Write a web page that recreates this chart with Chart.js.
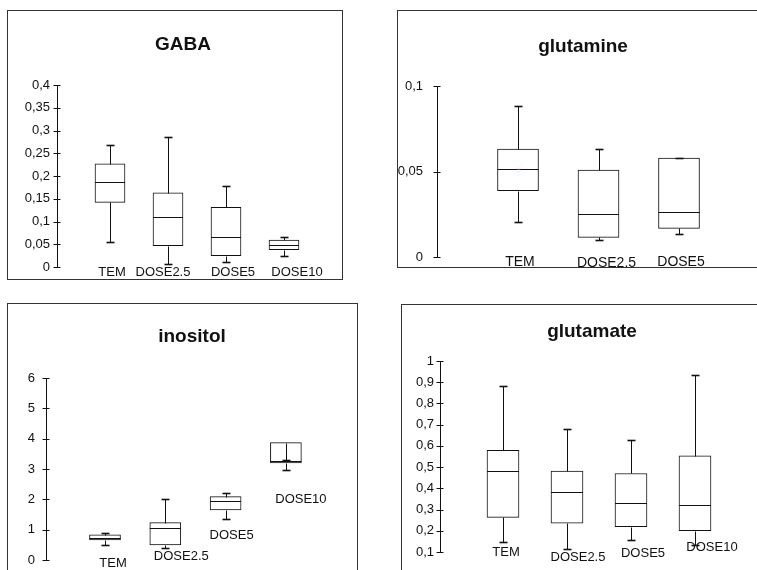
<!DOCTYPE html>
<html><head><meta charset="utf-8">
<script src="https://cdn.jsdelivr.net/npm/chart.js@4.4.1/dist/chart.umd.min.js"></script>
<style>
html,body{margin:0;padding:0;background:#fff;}
body{width:757px;height:570px;position:relative;overflow:hidden;}
.frame{position:absolute;border:1px solid #333;box-sizing:border-box;}
canvas{position:absolute;left:0;top:0;}
</style></head><body>
<div class="frame" style="left:7px;top:10px;width:336px;height:270px"></div>
<div class="frame" style="left:397px;top:10px;width:400px;height:258px"></div>
<div class="frame" style="left:7px;top:303px;width:351px;height:300px"></div>
<div class="frame" style="left:401px;top:304px;width:400px;height:300px"></div>
<canvas id="c1" width="757" height="620"></canvas>
<canvas id="c2" width="757" height="620"></canvas>
<canvas id="c3" width="757" height="620"></canvas>
<canvas id="c4" width="757" height="620"></canvas>
<script>
// ---------- data ----------
const gabaCategories = ['TEM', 'DOSE2.5', 'DOSE5', 'DOSE10'];
const gabaMin    = [0.055, 0.007, 0.012, 0.025];
const gabaQ1     = [0.142, 0.047, 0.025, 0.038];
const gabaMedian = [0.187, 0.109, 0.065, 0.048];
const gabaQ3     = [0.227, 0.163, 0.131, 0.059];
const gabaMax    = [0.268, 0.286, 0.179, 0.067];

const glutamineCategories = ['TEM', 'DOSE2.5', 'DOSE5'];
const glutamineMin    = [0.0202, 0.0097, 0.0134];
const glutamineQ1     = [0.0388, 0.0115, 0.0167];
const glutamineMedian = [0.0517, 0.0250, 0.0264];
const glutamineQ3     = [0.0631, 0.0509, 0.0579];
const glutamineMax    = [0.0883, 0.0633, 0.0579];

const inositolCategories = ['TEM', 'DOSE2.5', 'DOSE5', 'DOSE10'];
const inositolMin    = [0.50, 0.39, 1.34, 2.97];
const inositolQ1     = [0.66, 0.50, 1.65, 3.20];
const inositolMedian = [0.74, 1.05, 1.95, 3.26];
const inositolQ3     = [0.83, 1.23, 2.09, 3.87];
const inositolMax    = [0.90, 2.02, 2.22, 3.31];

const glutamateCategories = ['TEM', 'DOSE2.5', 'DOSE5', 'DOSE10'];
const glutamateMin    = [0.148, 0.116, 0.156, 0.132];
const glutamateQ1     = [0.263, 0.236, 0.219, 0.200];
const glutamateMedian = [0.481, 0.384, 0.329, 0.321];
const glutamateQ3     = [0.579, 0.481, 0.470, 0.553];
const glutamateMax    = [0.884, 0.678, 0.629, 0.934];

// y-axis tick settings (min, max, step)
const gabaTicks      = [0, 0.4, 0.05];
const glutamineTicks = [0, 0.1, 0.05];
const inositolTicks  = [0, 6, 1];
const glutamateTicks = [0.1, 1, 0.1];

// ---------- drawing ----------
const FONT = "'Liberation Sans', Arial, Helvetica, sans-serif";
Chart.defaults.font.family = FONT;
Chart.defaults.color = '#111';
const INK = '#111';
const AXIS_W = 40;
const CW = 757, CH = 620;

const boxDecor = {
  id: 'boxDecor',
  afterDatasetsDraw(chart, args, o) {
    const ctx = chart.ctx, xs = chart.scales.x, ys = chart.scales.y;
    const py = v => Math.round(ys.getPixelForValue(v)) + 0.5;
    const line = (x1, y1, x2, y2, w) => {
      ctx.lineWidth = w || 1;
      ctx.beginPath(); ctx.moveTo(x1, y1); ctx.lineTo(x2, y2); ctx.stroke();
    };
    ctx.save();
    ctx.strokeStyle = INK;
    // tick marks crossing the axis
    const ax = Math.round(ys.right) + 0.5;
    ys.ticks.forEach(t => { const y = py(t.value); line(ax - 4, y, ax + 3, y); });
    const meta = chart.getDatasetMeta(0);
    o.cats.forEach((c, i) => {
      const el = meta.data[i];
      const cx = Math.round(el.x) + 0.5, half = el.width / 2;
      const left = el.x - half, right = el.x + half;
      const m = py(o.med[i]);
      line(left, m, right, m);
      if (o.redMedian && i === 0) {
        ctx.strokeStyle = '#e00'; line(cx - 1.5, m, cx + 1.5, m); ctx.strokeStyle = INK;
      }
      // whiskers
      line(cx, py(o.q3[i]), cx, py(o.max[i]));
      line(cx - 4, py(o.max[i]), cx + 4, py(o.max[i]), 1.6);
      line(cx, py(o.q1[i]), cx, py(o.min[i]));
      line(cx - 4, py(o.min[i]), cx + 4, py(o.min[i]), 1.6);
    });
    // category labels
    ctx.fillStyle = INK;
    ctx.textAlign = 'center'; ctx.textBaseline = 'middle';
    ctx.font = o.labelSize + 'px ' + FONT;
    o.cats.forEach((c, i) => ctx.fillText(c, xs.getPixelForValue(i) + o.labelDx[i], o.labelY[i]));
    // title
    ctx.font = 'bold 19px ' + FONT;
    ctx.fillText(o.title, o.titleX, o.titleY);
    ctx.restore();
  }
};

function makeChart(id, p) {
  const data = p.cats.map((c, i) => ({ x: i, y: [p.q1[i], p.q3[i]] }));
  const a = -(p.c0 - p.axisX) / p.step;
  const b = a + (p.right - p.axisX) / p.step;
  new Chart(document.getElementById(id), {
    type: 'bar',
    data: { datasets: [{
      data,
      backgroundColor: '#fff', borderColor: INK, borderWidth: 1,
      borderSkipped: false, barThickness: p.barW
    }]},
    options: {
      responsive: false, animation: false, events: [],
      layout: { padding: { left: p.axisX - AXIS_W, right: CW - p.right, top: p.top, bottom: CH - p.bottom } },
      plugins: {
        legend: { display: false }, tooltip: { enabled: false }, title: { display: false },
        boxDecor: {
          cats: p.cats, min: p.min, q1: p.q1, med: p.med, q3: p.q3, max: p.max,
          labelDx: p.labelDx, labelY: p.labelY, labelSize: p.labelSize,
          title: p.title, titleX: p.titleX, titleY: p.titleY, redMedian: p.redMedian
        }
      },
      scales: {
        x: { type: 'linear', display: false, offset: false, min: a, max: b, grid: { offset: false } },
        y: {
          min: p.ticks[0], max: p.ticks[1],
          afterFit: s => { s.width = AXIS_W; },
          grid: { display: false, drawTicks: false },
          border: { display: true, color: INK, width: 1 },
          ticks: {
            stepSize: p.ticks[2], padding: p.tickPad, color: INK, font: { size: 13 },
            callback: v => String(Number(v.toFixed(3))).replace('.', ',')
          }
        }
      }
    },
    plugins: [boxDecor]
  });
}

makeChart('c1', {
  cats: gabaCategories, min: gabaMin, q1: gabaQ1, med: gabaMedian, q3: gabaQ3, max: gabaMax,
  ticks: gabaTicks, title: 'GABA', titleX: 183, titleY: 45, tickPad: 7,
  axisX: 57, top: 85, bottom: 267, right: 330, c0: 110, step: 58, barW: 30,
  labelDx: [2, -5, 7, 13], labelY: [272, 272, 272, 272], labelSize: 13
});
makeChart('c2', {
  cats: glutamineCategories, min: glutamineMin, q1: glutamineQ1, med: glutamineMedian, q3: glutamineQ3, max: glutamineMax,
  ticks: glutamineTicks, title: 'glutamine', titleX: 583, titleY: 47, tickPad: 14,
  axisX: 437, top: 86, bottom: 257, right: 740, c0: 518, step: 80.5, barW: 41,
  labelDx: [2, 8, 2], labelY: [262, 263, 262], labelSize: 14, redMedian: true
});
makeChart('c3', {
  cats: inositolCategories, min: inositolMin, q1: inositolQ1, med: inositolMedian, q3: inositolQ3, max: inositolMax,
  ticks: inositolTicks, title: 'inositol', titleX: 192, titleY: 337, tickPad: 11,
  axisX: 46, top: 378, bottom: 560, right: 340, c0: 105, step: 60.3, barW: 31,
  labelDx: [8, 16, 6, 15], labelY: [563, 556, 535, 499], labelSize: 13
});
makeChart('c4', {
  cats: glutamateCategories, min: glutamateMin, q1: glutamateQ1, med: glutamateMedian, q3: glutamateQ3, max: glutamateMax,
  ticks: glutamateTicks, title: 'glutamate', titleX: 592, titleY: 332, tickPad: 6,
  axisX: 440, top: 361, bottom: 552, right: 740, c0: 503, step: 64, barW: 32,
  labelDx: [3, 11, 12, 17], labelY: [552, 557, 553, 547], labelSize: 13
});
</script>
</body></html>
